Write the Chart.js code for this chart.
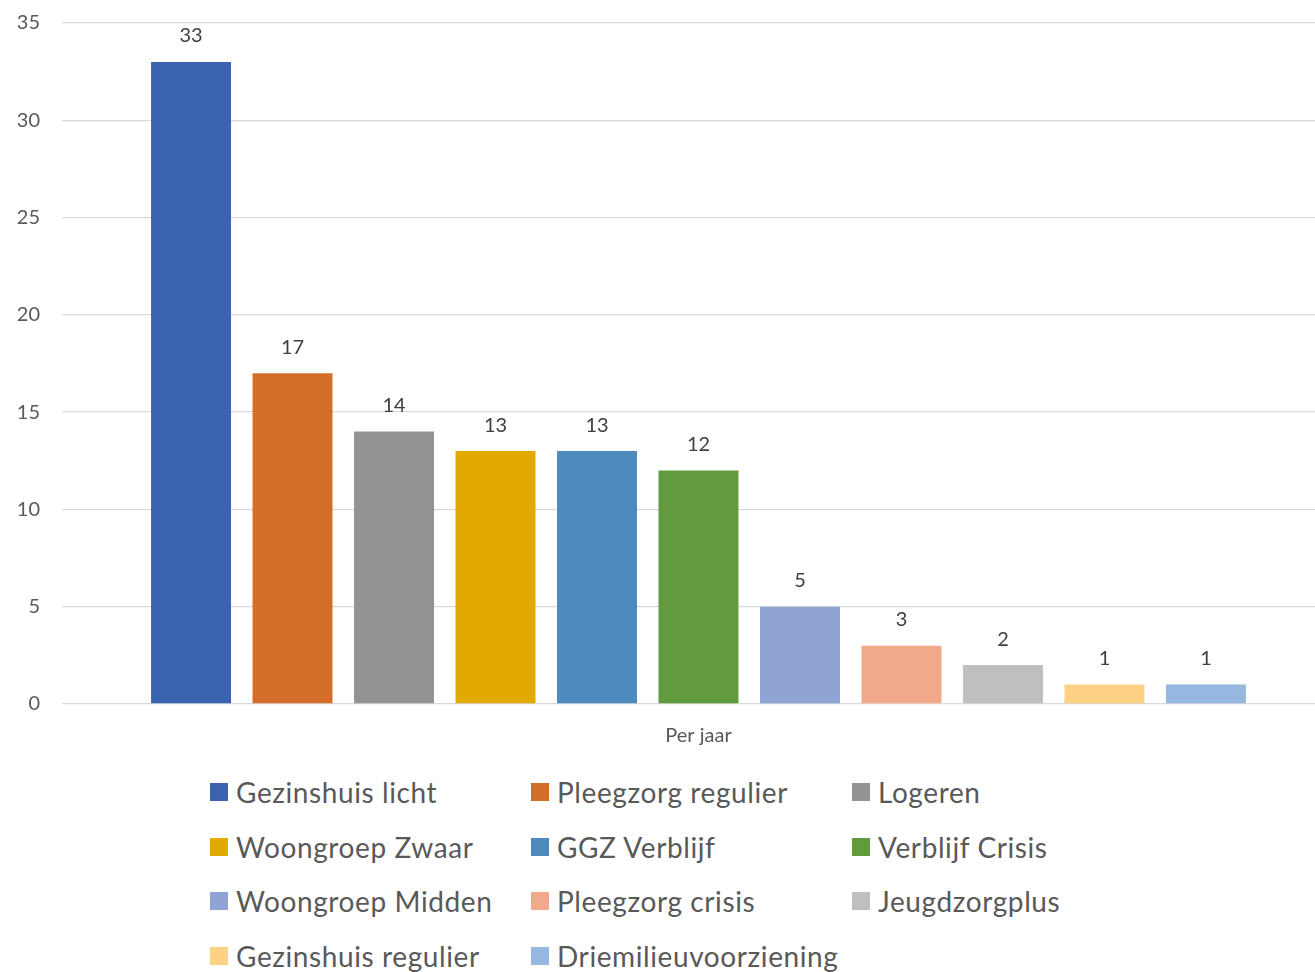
<!DOCTYPE html>
<html>
<head>
<meta charset="utf-8">
<script src="https://cdn.jsdelivr.net/npm/chart.js@4.4.1/dist/chart.umd.min.js"></script>
<style>
  html, body { margin: 0; padding: 0; overflow: hidden; background: #fff; }
  #wrap { position: relative; width: 1335px; height: 972px; }
  #chartBox { position: absolute; left: 0; top: -11px; width: 1335px; height: 771px; }
  #legend {
    position: absolute; left: 210px; top: 765px;
    display: grid; grid-template-columns: 321px 321px 321px; grid-auto-rows: 54.5px;
    font-family: Lato, "Open Sans", sans-serif; font-size: 28px; letter-spacing: 0.6px; color: #595959;
  }
  .item { display: flex; align-items: center; white-space: nowrap; }
  .box { width: 18px; height: 18px; margin-right: 8px; flex: none; }
</style>
</head>
<body>
<div id="wrap">
  <div id="chartBox"><canvas id="myChart"></canvas></div>
  <div id="legend"></div>
</div>
<script>
const categories = ['Per jaar'];
const seriesNames = [
    'Gezinshuis licht', 'Pleegzorg regulier', 'Logeren',
    'Woongroep Zwaar', 'GGZ Verblijf', 'Verblijf Crisis',
    'Woongroep Midden', 'Pleegzorg crisis', 'Jeugdzorgplus',
    'Gezinshuis regulier', 'Driemilieuvoorziening'
];
const seriesValues = [33, 17, 14, 13, 13, 12, 5, 3, 2, 1, 1];
const seriesColors = [
    '#3c64ae', '#d36e2a', '#939393',
    '#e2aa00', '#4f8abe', '#629b3e',
    '#8fa4d4', '#f0a98a', '#bfbfbf',
    '#ffd185', '#96b8e0'
];
const yTicks = [0, 5, 10, 15, 20, 25, 30, 35];

const fontFamily = 'Lato, "Open Sans", sans-serif';

const valueLabels = {
    id: 'valueLabels',
    afterDatasetsDraw(chart) {
        const c = chart.ctx;
        c.save();
        c.font = '20px ' + fontFamily;
        c.fillStyle = '#404040';
        c.textAlign = 'center';
        c.textBaseline = 'middle';
        chart.data.datasets.forEach((ds, i) => {
            chart.getDatasetMeta(i).data.forEach((bar, j) => {
                c.fillText(ds.data[j], bar.x, bar.y - 26);
            });
        });
        c.restore();
    }
};

const data = {
    labels: categories,
    datasets: seriesNames.map((name, i) => ({
        label: name,
        data: [seriesValues[i]],
        backgroundColor: seriesColors[i],
        categoryPercentage: 0.877,
        barPercentage: 0.788
    }))
};

const config = {
    type: 'bar',
    data: data,
    options: {
        responsive: true,
        maintainAspectRatio: false,
        animation: false,
        layout: { padding: { top: 11, right: 0, left: 0, bottom: 0 } },
        plugins: {
            legend: { display: false },
            tooltip: { enabled: false }
        },
        scales: {
            x: {
                grid: { display: false },
                border: { display: false },
                ticks: {
                    color: '#595959',
                    font: { family: fontFamily, size: 20 },
                    padding: 12
                }
            },
            y: {
                min: 0,
                max: 35,
                afterBuildTicks(scale) {
                    scale.ticks = yTicks.map(v => ({ value: v }));
                },
                afterFit(scale) { scale.width = 62; },
                grid: { color: '#d9d9d9', lineWidth: 1.3, drawTicks: false },
                border: { display: false },
                ticks: {
                    color: '#595959',
                    font: { family: fontFamily, size: 20 },
                    padding: 22
                }
            }
        }
    },
    plugins: [valueLabels]
};

Chart.defaults.font.family = fontFamily;

const ctx = document.getElementById('myChart');
const chart = new Chart(ctx, config);

const legend = document.getElementById('legend');
chart.data.datasets.forEach(ds => {
    const item = document.createElement('div');
    item.className = 'item';
    const box = document.createElement('span');
    box.className = 'box';
    box.style.background = ds.backgroundColor;
    item.appendChild(box);
    item.appendChild(document.createTextNode(ds.label));
    legend.appendChild(item);
});
</script>
</body>
</html>
